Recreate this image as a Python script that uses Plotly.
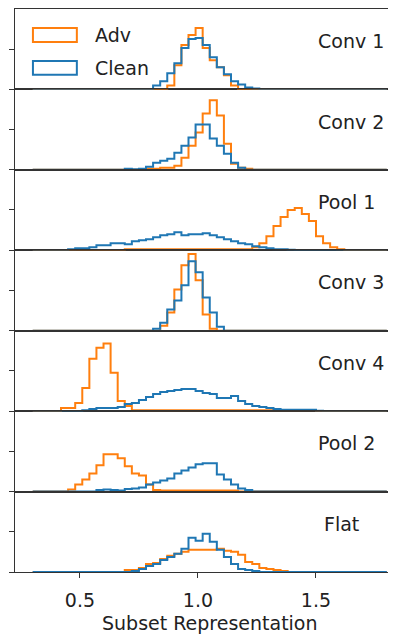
import numpy as np
import plotly.graph_objects as go
from plotly.subplots import make_subplots

# ---------------- data ----------------
BIN_LO, BIN_HI, N_BINS = 0.3, 1.8, 50
layers = ["Conv 1", "Conv 2", "Pool 1", "Conv 3", "Conv 4", "Pool 2", "Flat"]

# each series: (index of first listed bin, bin heights)
conv1_adv = (19, [4, 24, 44, 54, 61, 41, 29, 22, 14, 4])
conv1_clean = (17, [4, 8, 16, 26, 41, 50, 51, 44, 32, 22, 15, 8, 5, 2, 1])

conv2_adv = (16, [1, 1, 2, 2, 4, 12, 24, 37, 56, 69, 54, 26, 6, 2, 1])
conv2_clean = (13, [1, 0.5, 1, 3, 7, 9, 11, 17, 24, 32, 45, 45, 31, 24, 16, 7, 2])

pool1_adv = (13, [1, 1, 1, 1, 1, 1, 1, 1, 1, 1, 1, 1, 1, 1, 1, 1, 1, 1, 3,
                  7, 14, 24, 33, 40, 42, 36, 29, 14, 7, 3, 1])
pool1_clean = (5, [1, 2, 2, 3, 5, 5, 7, 7, 6, 9, 10, 11, 13, 15, 16, 18, 15, 16,
                   16, 17, 15, 13, 11, 9, 7, 6, 4, 3, 2, 1, 1, 0.5])

conv3_adv = (18, [5, 18, 41, 65, 76, 50, 16, 2])
conv3_clean = (17, [2, 8, 21, 30, 45, 69, 58, 33, 18, 4])

conv4_adv = (4, [3, 3, 8, 23, 52, 63, 67, 38, 10, 5, 1, 1, 1, 1, 1, 1, 1, 1, 1,
                 1, 1, 1, 1, 1, 1, 1, 1, 1, 1, 1, 1, 1, 1, 1, 1, 1])
conv4_clean = (7, [1, 2, 3, 3, 3, 4, 7, 8, 11, 14, 17, 19, 20, 21, 22, 22, 20, 18,
                   17, 13, 13, 15, 10, 7, 5, 4, 3, 2, 1.3, 1.3, 1.5, 1.5, 1.5, 0.5])

pool2_adv = (5, [2, 7, 12, 18, 26, 37, 37, 33, 25, 18, 16, 7, 1.5, 1, 1, 1, 1,
                 1, 1, 1, 1, 1, 1, 1])
pool2_clean = (9, [1.5, 2, 1.5, 1, 2.5, 3, 4, 7, 9, 11, 13, 18, 21, 24, 27, 28,
                   28, 17, 12, 7, 3, 1.5])

flat_adv = (13, [2, 2, 4, 8, 9, 13, 16, 18, 20, 22, 22, 22, 22, 23, 21, 20, 17,
                 10, 8, 4, 3, 2, 1])
flat_clean = (14, [1, 3, 6, 8, 12, 15, 18, 23, 34, 31, 38, 30, 22, 15, 8, 3, 2, 1])

adv_series = [conv1_adv, conv2_adv, pool1_adv, conv3_adv, conv4_adv, pool2_adv, flat_adv]
clean_series = [conv1_clean, conv2_clean, pool1_clean, conv3_clean, conv4_clean,
                pool2_clean, flat_clean]

x_ticks = [0.5, 1.0, 1.5]
x_tick_labels = ["0.5", "1.0", "1.5"]
x_title = "Subset Representation"

# ---------------- style ----------------
ADV_COLOR = "#ff7f0e"
CLEAN_COLOR = "#1f77b4"
AXIS_COLOR = "#333333"
TEXT_COLOR = "#222222"
FONT = "DejaVu Sans"
FS = 19

edges = np.linspace(BIN_LO, BIN_HI, N_BINS + 1)


def full_counts(series):
    start, vals = series
    c = np.zeros(N_BINS)
    c[start:start + len(vals)] = vals
    return c


def step_xy(counts):
    xs = [edges[0]] + list(edges[:-1]) + [edges[-1], edges[-1]]
    ys = [0] + list(counts) + [counts[-1], 0]
    return xs, ys


n = len(layers)
fig = make_subplots(rows=n, cols=1, shared_xaxes=False, vertical_spacing=0)

ymax = max(max(s[1]) for s in adv_series + clean_series) * 1.05

for i in range(n):
    for series, color, name in [(adv_series[i], ADV_COLOR, "Adv"),
                                (clean_series[i], CLEAN_COLOR, "Clean")]:
        xs, ys = step_xy(full_counts(series))
        fig.add_trace(go.Scatter(x=xs, y=ys, mode="lines", line_shape="hv",
                                 line=dict(color=color, width=2),
                                 name=name, showlegend=False, hoverinfo="skip"),
                      row=i + 1, col=1)

XR = [0.225, 1.839]
for i in range(n):
    last = (i == n - 1)
    fig.update_xaxes(row=i + 1, col=1, range=XR, showline=True, mirror=True,
                     linecolor=AXIS_COLOR, linewidth=1.3, showgrid=False,
                     zeroline=False, layer="below traces",
                     ticks="outside" if last else "", ticklen=5,
                     tickcolor=AXIS_COLOR, tickwidth=1.3,
                     tickvals=x_ticks if last else [],
                     ticktext=x_tick_labels if last else [],
                     showticklabels=last, ticklabelstandoff=6,
                     tickfont=dict(family=FONT, size=FS, color=TEXT_COLOR))
    fig.update_yaxes(row=i + 1, col=1, range=[0, ymax], tickvals=[0, 40],
                     ticks="outside", ticklen=5, tickcolor=AXIS_COLOR, tickwidth=1.3,
                     showticklabels=False, showline=True, linecolor=AXIS_COLOR,
                     linewidth=1.3, showgrid=False, zeroline=False,
                     layer="below traces")

annotations = []
for i, name in enumerate(layers):
    sfx = "" if i == 0 else str(i + 1)
    annotations.append(dict(text=name, x=1.525 if name == "Flat" else 1.5,
                            xref="x" + sfx, y=0.6, yref="y" + sfx + " domain",
                            xanchor="left", yanchor="middle", showarrow=False,
                            font=dict(family=FONT, size=FS, color=TEXT_COLOR)))

# legend (patch-style boxes like the original)
shapes = []
for color, label, y0, y1 in [(ADV_COLOR, "Adv", 0.591, 0.765),
                             (CLEAN_COLOR, "Clean", 0.181, 0.355)]:
    shapes.append(dict(type="rect", xref="x", yref="y domain", x0=0.301, x1=0.487,
                       y0=y0, y1=y1, line=dict(color=color, width=2),
                       fillcolor="rgba(0,0,0,0)"))
    annotations.append(dict(text=label, x=0.555, xref="x", y=(y0 + y1) / 2,
                            yref="y domain", xanchor="left", yanchor="middle",
                            showarrow=False,
                            font=dict(family=FONT, size=FS, color=TEXT_COLOR)))

annotations.append(dict(text=x_title, x=0.512, xref="paper", y=-0.0905, yref="paper",
                        xanchor="center", yanchor="middle", showarrow=False,
                        font=dict(family=FONT, size=FS, color=TEXT_COLOR)))

# page body adds an 8px offset, so the figure is 8px smaller in each direction
fig.update_layout(width=388, height=627, margin=dict(l=7, r=0, t=1, b=63),
                  plot_bgcolor="white", paper_bgcolor="white",
                  showlegend=False, annotations=annotations, shapes=shapes)

fig.write_html("out.html")
